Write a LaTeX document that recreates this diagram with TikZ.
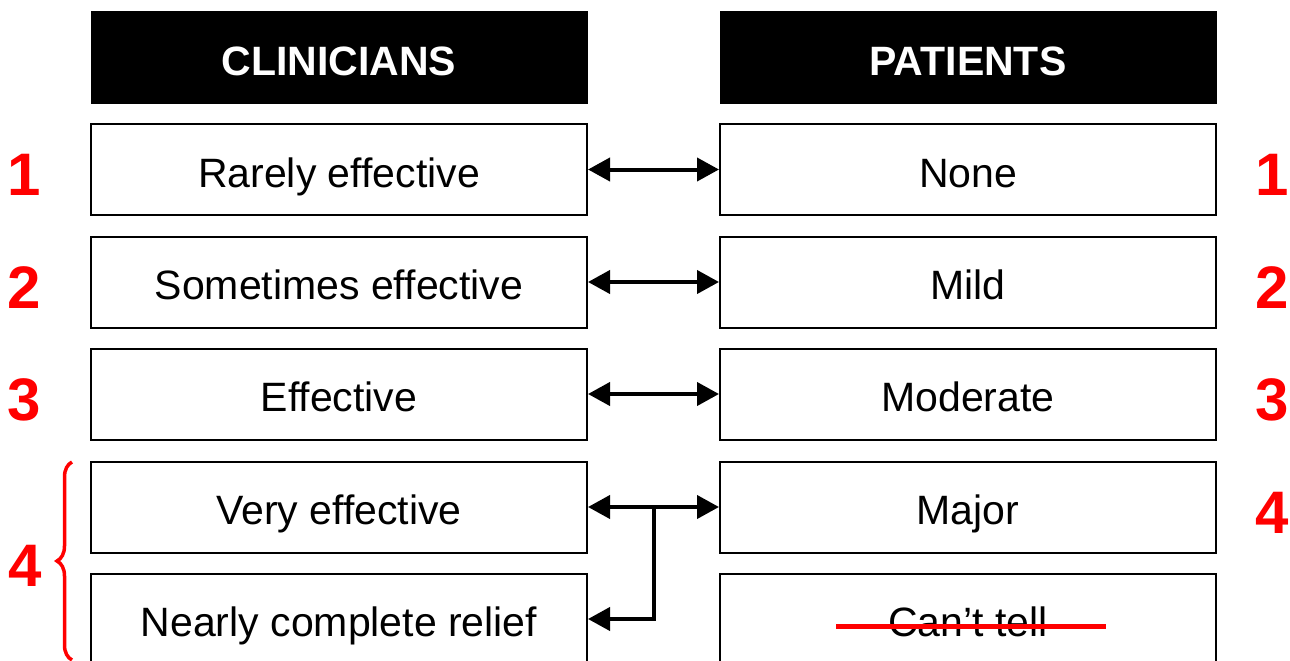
\documentclass[tikz,border=0pt]{standalone}
\usepackage{fontspec}
\setmainfont{Liberation Sans}
\usetikzlibrary{arrows.meta,decorations.pathreplacing,calc}
\begin{document}
\begin{tikzpicture}[x=1pt,y=-1pt,
  box/.style={draw=black, line width=2pt, minimum width=496pt, minimum height=91pt,
    inner sep=0pt, text height=35pt, text depth=0pt, font=\fontsize{41}{49}\selectfont},
  head/.style={fill=black, draw=black, line width=1pt, minimum width=496pt, minimum height=91pt,
    inner sep=0pt, text height=35pt, text depth=0pt, text=white, font=\fontsize{41}{49}\selectfont\bfseries},
  num/.style={text=red, font=\fontsize{60}{72}\selectfont\bfseries, anchor=base, inner sep=0pt},
  tip/.tip={Triangle[length=22pt,width=23pt]},
  link/.style={line width=4pt, tip-tip},
  halflink/.style={line width=4pt, -tip},
]
\useasboundingbox (0,0) rectangle (1290,661);
\clip (0,0) rectangle (1290,661);

% headers
\node[head] (hl) at (339,57.5) {CLINICIANS};
\node[head] (hr) at (968,57.5) {PATIENTS};

% left column
\node[box] (l1) at (339,169.5) {Rarely effective};
\node[box] (l2) at (339,282) {Sometimes effective};
\node[box] (l3) at (339,394) {Effective};
\node[box] (l4) at (339,507) {Very effective};
\node[box] (l5) at (339,619) {Nearly complete relief};

% right column
\node[box] (r1) at (968,169.5) {None};
\node[box] (r2) at (968,282) {Mild};
\node[box] (r3) at (968,394) {Moderate};
\node[box] (r4) at (968,507) {Major};
\node[box] (r5) at (968,619) {Can’t tell};

% strike-through
\draw[red, line width=5pt] (836,626) -- (1106,626);

% connectors
\draw[link] (l1.east) -- (r1.west);
\draw[link] (l2.east) -- (r2.west);
\draw[link] (l3.east) -- (r3.west);
\draw[link] (l4.east) -- (r4.west);
\coordinate (j) at ($(l4.east)!0.5!(r4.west)$);
\draw[halflink] (j) |- (l5.east);

% red numbers
\node[num] (n1l) at (24,195) {1};
\node[num] (n2l) at (24,308) {2};
\node[num] (n3l) at (24,420) {3};
\node[num] (n4l) at (25,586) {4};
\node[num] (n1r) at (1272,195) {1};
\node[num] (n2r) at (1272,308) {2};
\node[num] (n3r) at (1272,420) {3};
\node[num] (n4r) at (1272,533) {4};

% brace
\draw[red, line width=3.5pt, decorate, decoration={brace, amplitude=15pt}] (72,660) -- (72,462);
\end{tikzpicture}
\end{document}
